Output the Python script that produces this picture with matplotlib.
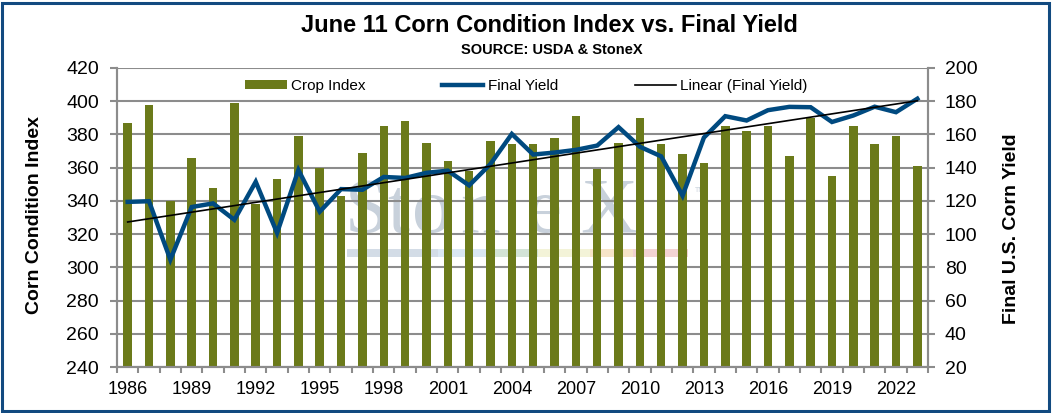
import numpy as np
import matplotlib
matplotlib.use("Agg")
import matplotlib.pyplot as plt
from matplotlib.patches import Rectangle

plt.rcParams['font.family'] = ['Liberation Sans', 'DejaVu Sans']

# data
years = list(range(1986, 2024))
crop_index = [387, 398, 340, 366, 348, 399, 338, 353, 379, 360,
              343, 369, 385, 388, 375, 364, 358, 376, 374, 374,
              378, 391, 359, 375, 390, 374, 368, 363, 385, 382,
              385, 367, 390, 355, 385, 374, 379, 361]
final_yield = [119.4, 119.8, 84.6, 116.3, 118.5, 108.6, 131.5, 100.7, 138.6, 113.5,
               127.1, 126.7, 134.4, 133.8, 136.9, 138.2, 129.3, 142.2, 160.3, 147.9,
               149.1, 150.7, 153.3, 164.4, 152.6, 146.8, 123.1, 158.1, 171.0, 168.4,
               174.6, 176.6, 176.4, 167.5, 171.4, 176.7, 173.4, 181.5]
year_labels = list(range(1986, 2024, 3))

bar_color = '#6B7A1A'
line_color = '#004A80'
grid_color = '#8C8C8C'
wm_color = '#C8D1DB'

fig = plt.figure(figsize=(10.52, 4.13), dpi=100)
ax = fig.add_axes([117/1052, 46/413, 811/1052, 299/413])
ax2 = ax.twinx()

# watermark
wm = dict(transform=ax.transAxes, color=wm_color, fontsize=57,
          family='Liberation Serif', zorder=0.1, va='baseline', ha='left')
for ch, xp in zip("StoneX", [228, 270, 295, 343, 410, 463]):
    ax.text(xp/811, (367-232)/299, ch, **wm)
ax.text(578/811, (367-192)/299, "TM", transform=ax.transAxes, color=wm_color,
        fontsize=5, zorder=0.1)
stripe = [(230, 321, '#D3DCE6'), (321, 370, '#DAE7F3'), (370, 421, '#D3E3D6'),
          (421, 473, '#F3F3D8'), (473, 516, '#F6E4C8'), (516, 571, '#F2D3D3')]
for x0, x1, c in stripe:
    ax.add_patch(Rectangle((x0/811, (367-257)/299), (x1-x0)/811, 8/299,
                           transform=ax.transAxes, color=c, zorder=0.1, lw=0))

ax.bar(years, crop_index, width=0.4, color=bar_color, label='Crop Index', zorder=2)
ax.set_ylim(240, 420)
ax.set_yticks(range(240, 421, 20))
ax.set_xlim(1985.5, 2023.5)
ax.set_xticks(year_labels)
ax.set_xticks(np.arange(1985.5, 2024, 1), minor=True)
ax.set_axisbelow(True)
ax.grid(axis='y', color=grid_color, lw=1.5)

ax2.plot(years, final_yield, color=line_color, lw=3.2, label='Final Yield',
         solid_joinstyle='miter', zorder=3)
coef = np.polyfit(years, final_yield, 1)
ax2.plot(years, np.polyval(coef, years), color='black', lw=1.2,
         label='Linear (Final Yield)', zorder=4)
ax2.set_ylim(20, 200)
ax2.set_yticks(range(20, 201, 20))

for a in (ax, ax2):
    for s in a.spines.values():
        s.set_color(grid_color)
        s.set_linewidth(1.5)
ax2.spines['top'].set_visible(False)
ax.spines['top'].set_visible(False)

ax.tick_params(axis='y', labelsize=14, length=5, width=1.5, color=grid_color, pad=8)
ax2.tick_params(axis='y', labelsize=14, length=5, width=1.5, color=grid_color, pad=7)
ax.tick_params(axis='x', which='major', labelsize=13, length=0, pad=10)
ax.tick_params(axis='x', which='minor', length=4.5, width=1.5, color=grid_color)

fig.text(35/1052, 1 - 215/413, 'Corn Condition Index', rotation=90, fontsize=14,
         fontweight='bold', ha='center', va='center')
fig.text(1011/1052, 1 - 229/413, 'Final U.S. Corn Yield', rotation=90, fontsize=14,
         fontweight='bold', ha='center', va='center')

fig.text(549/1052, 1 - 25/413, 'June 11 Corn Condition Index vs. Final Yield',
         fontsize=17, fontweight='bold', ha='center', va='center')
fig.text(552/1052, 1 - 50/413, 'SOURCE: USDA & StoneX', fontsize=10.5,
         fontweight='bold', ha='center', va='center')

h1, l1 = ax.get_legend_handles_labels()
h2, l2 = ax2.get_legend_handles_labels()
ax2.legend(h1 + h2, l1 + l2, loc='center', bbox_to_anchor=(0.505, 0.94), ncol=3,
           frameon=False, fontsize=11, handlelength=2.7, columnspacing=5.0,
           handletextpad=0.3, handleheight=0.6)

fig.patches.append(Rectangle((2/1052, 2/413), 1047/1052, 408/413, transform=fig.transFigure,
                             fill=False, edgecolor='#124A80', lw=2.2))

fig.savefig('out.png', dpi=100)
